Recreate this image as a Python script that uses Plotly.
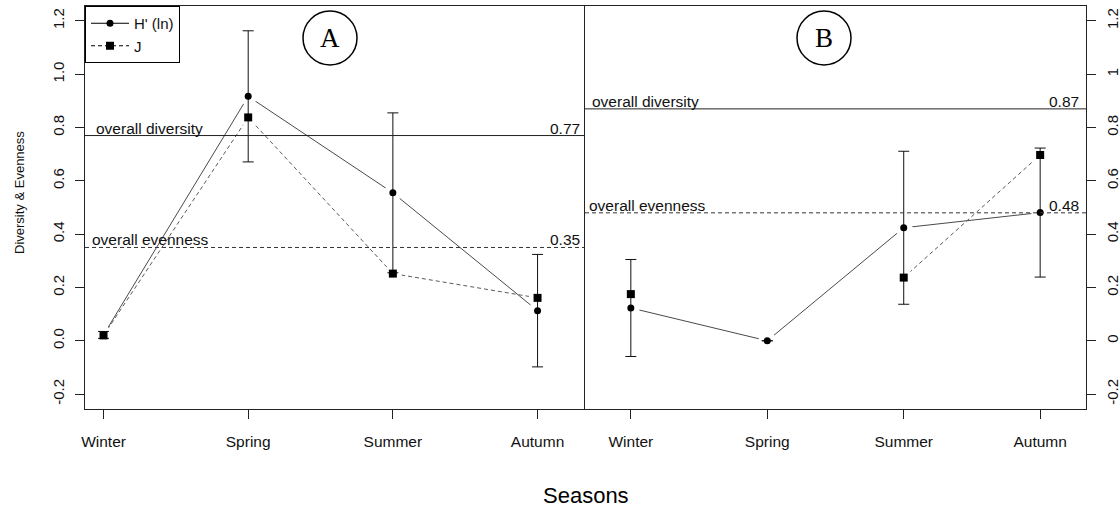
import plotly.graph_objects as go

# ---------------- data ----------------
seasons = ["Winter", "Spring", "Summer", "Autumn"]
season_pos = [1, 2, 3, 4]

# Panel A
h_A = [0.022, 0.917, 0.555, 0.113]
j_A = [0.020, 0.838, 0.252, 0.161]
err_A = [0.013, 0.246, 0.300, 0.211]
overall_div_A = 0.77
overall_even_A = 0.35

# Panel B
h_B = [0.123, 0.000, 0.424, 0.481]
j_B = [0.175, None, 0.237, 0.697]
err_B = [0.182, 0.0, 0.287, 0.242]
overall_div_B = 0.87
overall_even_B = 0.48

y_tickvals = [-0.2, 0.0, 0.2, 0.4, 0.6, 0.8, 1.0, 1.2]
y_ticktext_left = ["-0.2", "0.0", "0.2", "0.4", "0.6", "0.8", "1.0", "1.2"]
y_ticktext_right = ["-0.2", "0", "0.2", "0.4", "0.6", "0.8", "1", "1.2"]

# ---------------- figure ----------------
W, H = 1120, 508
FONT = "Liberation Sans, Arial, sans-serif"
LINE_H = "#4a4a4a"
LINE_J = "#5a5a5a"

fig = go.Figure()


def panel(xa, ya, h, j, err):
    # connecting lines
    fig.add_trace(go.Scatter(x=season_pos, y=h, mode="lines", xaxis=xa, yaxis=ya,
                             line=dict(color=LINE_H, width=1), showlegend=False,
                             hoverinfo="skip"))
    fig.add_trace(go.Scatter(x=season_pos, y=j, mode="lines", xaxis=xa, yaxis=ya,
                             line=dict(color=LINE_J, width=1, dash="4px,3px"),
                             showlegend=False, hoverinfo="skip", connectgaps=False))
    # white halos to mimic R type="b" gaps
    for s in (h, j):
        fig.add_trace(go.Scatter(x=season_pos, y=s, mode="markers", xaxis=xa, yaxis=ya,
                                 marker=dict(color="white", size=18, symbol="circle",
                                             line=dict(width=0)),
                                 showlegend=False, hoverinfo="skip"))
    # error bars (around H')
    fig.add_trace(go.Scatter(x=season_pos, y=h, mode="markers", xaxis=xa, yaxis=ya,
                             marker=dict(color="rgba(0,0,0,0)", size=1),
                             error_y=dict(type="data", array=err, visible=True,
                                          color="#111", thickness=1, width=5.5),
                             showlegend=False, hoverinfo="skip"))
    # markers
    fig.add_trace(go.Scatter(x=season_pos, y=j, mode="markers", xaxis=xa, yaxis=ya,
                             marker=dict(color="black", size=8, symbol="square"),
                             showlegend=False))
    fig.add_trace(go.Scatter(x=season_pos, y=h, mode="markers", xaxis=xa, yaxis=ya,
                             marker=dict(color="black", size=7, symbol="circle"),
                             showlegend=False))


panel("x", "y", h_A, j_A, err_A)
panel("x2", "y2", h_B, j_B, err_B)

# legend-only entries
fig.add_trace(go.Scatter(x=[None], y=[None], mode="lines+markers", name="H' (ln)",
                         line=dict(color="black", width=1),
                         marker=dict(color="black", size=7, symbol="circle")))
fig.add_trace(go.Scatter(x=[None], y=[None], mode="lines+markers", name="J",
                         line=dict(color="black", width=1, dash="4px,3px"),
                         marker=dict(color="black", size=8, symbol="square")))

# overall reference lines + labels
shapes = []
annotations = []


def ref_lines(xa, ya, div, even, lx_div, lx_even, rx):
    xref = xa + " domain"
    shapes.append(dict(type="line", xref=xref, yref=ya, x0=0, x1=1, y0=div, y1=div,
                       line=dict(color="#222", width=1), layer="above"))
    shapes.append(dict(type="line", xref=xref, yref=ya, x0=0, x1=1, y0=even, y1=even,
                       line=dict(color="#333", width=1, dash="4px,3px"), layer="above"))
    for txt, xx, yy, anc in [("overall diversity", lx_div, div, "left"),
                             ("overall evenness", lx_even, even, "left"),
                             (f"{div:.2f}", rx, div, "right"),
                             (f"{even:.2f}", rx, even, "right")]:
        annotations.append(dict(text=txt, xref=xref, yref=ya, x=xx, y=yy,
                                xanchor=anc, yanchor="bottom", showarrow=False,
                                yshift=-3, font=dict(family=FONT, size=15.5, color="#111")))


ref_lines("x", "y", overall_div_A, overall_even_A, 0.018, 0.009, 0.993)
ref_lines("x2", "y2", overall_div_B, overall_even_B, 0.01, 0.004, 0.99)

# circled panel letters
for letter, cx in [("A", 330), ("B", 824)]:
    cy, r = 38, 27
    shapes.append(dict(type="circle", xref="paper", yref="paper",
                       x0=(cx - r) / W, x1=(cx + r) / W,
                       y0=1 - (cy + r) / H, y1=1 - (cy - r) / H,
                       line=dict(color="black", width=1.5)))
    annotations.append(dict(text=letter, xref="paper", yref="paper", x=cx / W,
                            y=1 - cy / H, xanchor="center", yanchor="middle",
                            showarrow=False,
                            font=dict(family="Liberation Serif, Times New Roman, serif",
                                      size=27, color="black")))

# axis titles
annotations.append(dict(text="Seasons", xref="paper", yref="paper", x=586 / W,
                        y=1 - 495 / H, xanchor="center", yanchor="middle",
                        showarrow=False, font=dict(family=FONT, size=22, color="black")))
annotations.append(dict(text="Diversity & Evenness", xref="paper", yref="paper",
                        x=19 / W, y=1 - 193 / H, xanchor="center", yanchor="middle",
                        textangle=-90, showarrow=False,
                        font=dict(family=FONT, size=13, color="#111")))

ydom = [1 - 409 / H, 1 - 6 / H]
common_x = dict(tickmode="array", tickvals=season_pos, ticktext=seasons,
                ticks="outside", ticklen=9, tickcolor="#222", showgrid=False,
                zeroline=False, showline=True, linecolor="#222", linewidth=1,
                mirror=True, tickfont=dict(family=FONT, size=15.5, color="#111"),
                ticklabelstandoff=9, automargin=False)
common_y = dict(range=[-0.256, 1.256], tickmode="array", tickvals=y_tickvals,
                ticks="outside", ticklen=9, tickcolor="#222", showgrid=False,
                zeroline=False, showline=True, linecolor="#222", linewidth=1,
                tickangle=-90, domain=ydom, automargin=False,
                tickfont=dict(family=FONT, size=15, color="#111"))

fig.update_layout(
    width=W, height=H,
    margin=dict(l=0, r=0, t=0, b=0, autoexpand=False),
    paper_bgcolor="white", plot_bgcolor="white",
    xaxis=dict(common_x, domain=[85 / W, 585 / W], range=[0.872, 4.328], anchor="y"),
    xaxis2=dict(common_x, domain=[585 / W, 1086 / W], range=[0.664, 4.336], anchor="y2"),
    yaxis=dict(common_y, ticktext=y_ticktext_left, anchor="x", side="left",
               mirror=False, ticklabelstandoff=5),
    yaxis2=dict(common_y, ticktext=y_ticktext_right, anchor="x2", side="right",
                mirror=True, ticklabelstandoff=4),
    shapes=shapes,
    annotations=annotations,
    showlegend=True,
    legend=dict(x=85 / W, y=1 - 6 / H, xanchor="left", yanchor="top",
                bordercolor="black", borderwidth=1, bgcolor="white",
                font=dict(family=FONT, size=15, color="#111"),
                itemwidth=38, tracegroupgap=0),
)

fig.write_html("out.html")
